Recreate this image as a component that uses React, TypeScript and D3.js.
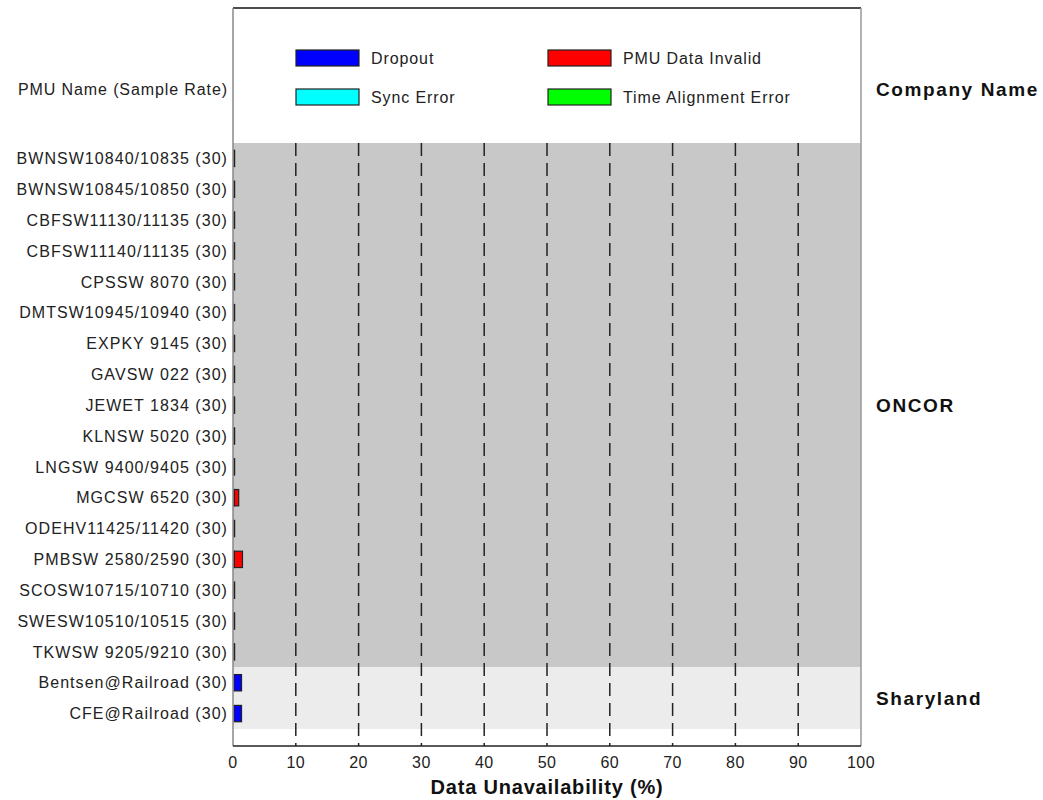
import React from "react";
import * as d3 from "d3";

const pmuNames = [
  "BWNSW10840/10835 (30)",
  "BWNSW10845/10850 (30)",
  "CBFSW11130/11135 (30)",
  "CBFSW11140/11135 (30)",
  "CPSSW 8070 (30)",
  "DMTSW10945/10940 (30)",
  "EXPKY 9145 (30)",
  "GAVSW 022 (30)",
  "JEWET 1834 (30)",
  "KLNSW 5020 (30)",
  "LNGSW 9400/9405 (30)",
  "MGCSW 6520 (30)",
  "ODEHV11425/11420 (30)",
  "PMBSW 2580/2590 (30)",
  "SCOSW10715/10710 (30)",
  "SWESW10510/10515 (30)",
  "TKWSW 9205/9210 (30)",
  "Bentsen@Railroad (30)",
  "CFE@Railroad (30)",
];
const companyOf = [
  "ONCOR", "ONCOR", "ONCOR", "ONCOR", "ONCOR", "ONCOR", "ONCOR", "ONCOR", "ONCOR",
  "ONCOR", "ONCOR", "ONCOR", "ONCOR", "ONCOR", "ONCOR", "ONCOR", "ONCOR",
  "Sharyland", "Sharyland",
];
const companies = ["ONCOR", "Sharyland"];
const dropout = [0.1, 0.1, 0.1, 0.1, 0.1, 0.1, 0.1, 0.1, 0.1, 0.1, 0.1, 0.05, 0.1, 0.05, 0.1, 0.1, 0.1, 1.2, 1.2];
const syncError = [0, 0, 0, 0, 0, 0, 0, 0, 0, 0, 0, 0, 0, 0, 0, 0, 0, 0, 0];
const pmuInvalid = [0, 0, 0, 0, 0, 0, 0, 0, 0, 0, 0, 0.7, 0, 1.3, 0, 0, 0, 0, 0];
const timeAlign = [0, 0, 0, 0, 0, 0, 0, 0, 0, 0, 0, 0, 0, 0, 0, 0, 0, 0, 0];
const seriesNames = ["Dropout", "Sync Error", "PMU Data Invalid", "Time Alignment Error"];
const seriesColors = ["#0000ff", "#00ffff", "#ff0000", "#00ff00"];
const xTicks = [0, 10, 20, 30, 40, 50, 60, 70, 80, 90, 100];
const companyBg: Record<string, string> = { ONCOR: "#c8c8c8", Sharyland: "#ececec" };

const FONT = "'Liberation Sans', Arial, sans-serif";

export default function App() {
  const W = 1043, H = 800;
  const left = 233, right = 861, top = 8, plotTop = 143, plotBottom = 729, axisY = 746;
  const x = d3.scaleLinear().domain([0, 100]).range([left, right]);
  const y = d3.scaleBand<string>().domain(pmuNames).range([plotTop, plotBottom]).paddingInner(0.47).paddingOuter(0.235);
  const step = y.step();

  const rows = pmuNames.map((n, i) => ({
    name: n,
    vals: [dropout[i], syncError[i], pmuInvalid[i], timeAlign[i]],
  }));
  const stack = d3.stack<any, number>().keys([0, 1, 2, 3]).value((d, k) => d.vals[k]);
  const stacked = stack(rows as any);

  const groups = companies.map((c) => {
    const idx = companyOf.map((cc, i) => (cc === c ? i : -1)).filter((i) => i >= 0);
    const y0 = plotTop + idx[0] * step;
    const y1 = plotTop + (idx[idx.length - 1] + 1) * step;
    return { c, y0, y1 };
  });

  const legendPos = [
    { x: 296, y: 50 },
    { x: 296, y: 89 },
    { x: 548, y: 50 },
    { x: 548, y: 89 },
  ];

  return (
    <svg width={W} height={H} style={{ display: "block", position: "absolute", left: 0, top: 0 }} fontFamily={FONT}>
      <rect width={W} height={H} fill="#fff" />
      {groups.map((g) => (
        <rect key={g.c} x={left} y={g.y0} width={right - left} height={g.y1 - g.y0} fill={companyBg[g.c]} />
      ))}
      {xTicks.filter((t) => t > 0 && t < 100).map((t) => (
        <line key={t} x1={x(t)} x2={x(t)} y1={plotTop} y2={axisY} stroke="#222" strokeWidth={1.5} strokeDasharray="13 7" />
      ))}
      {stacked.map((s, si) =>
        s.map((d, i) => {
          const w = x(d[1]) - x(d[0]);
          if (w <= 0) return null;
          return (
            <rect key={si + "-" + i} x={x(d[0]) + 1} y={y(pmuNames[i])!} width={w} height={y.bandwidth()}
              fill={seriesColors[si]} stroke="#222" strokeWidth={1.2} />
          );
        })
      )}
      <line x1={left} x2={right} y1={top} y2={top} stroke="#111" strokeWidth={1.5} />
      <line x1={left} x2={left} y1={top} y2={axisY} stroke="#888" strokeWidth={1.5} />
      <line x1={right} x2={right} y1={top} y2={axisY} stroke="#999" strokeWidth={1.5} />
      <line x1={left} x2={right} y1={axisY} y2={axisY} stroke="#222" strokeWidth={1.5} />
      {xTicks.map((t) => (
        <text key={t} x={x(t)} y={768} textAnchor="middle" fontSize={16} letterSpacing={0.4} fill="#222">{t}</text>
      ))}
      <text x={(left + right) / 2} y={794} textAnchor="middle" fontSize={20} letterSpacing={0.8} fontWeight="bold" fill="#111">Data Unavailability (%)</text>
      {pmuNames.map((n) => (
        <text key={n} x={228} y={y(n)! + y.bandwidth() / 2} dy="0.36em" textAnchor="end" fontSize={16} letterSpacing={1.05} fill="#222">{n}</text>
      ))}
      <text x={228} y={89} dy="0.36em" textAnchor="end" fontSize={16} letterSpacing={0.9} fill="#222">PMU Name (Sample Rate)</text>
      <text x={876} y={89} dy="0.36em" fontSize={19} letterSpacing={1.6} fontWeight="bold" fill="#111">Company Name</text>
      {groups.map((g) => (
        <text key={g.c} x={876} y={(g.y0 + g.y1) / 2} dy="0.36em" fontSize={19} letterSpacing={1.6} fontWeight="bold" fill="#111">{g.c}</text>
      ))}
      {seriesNames.map((s, i) => (
        <g key={s}>
          <rect x={legendPos[i].x} y={legendPos[i].y} width={63} height={16} fill={seriesColors[i]} stroke="#222" strokeWidth={1.2} />
          <text x={legendPos[i].x + 75} y={legendPos[i].y + 8} dy="0.36em" fontSize={16} letterSpacing={0.9} fill="#222">{s}</text>
        </g>
      ))}
    </svg>
  );
}
